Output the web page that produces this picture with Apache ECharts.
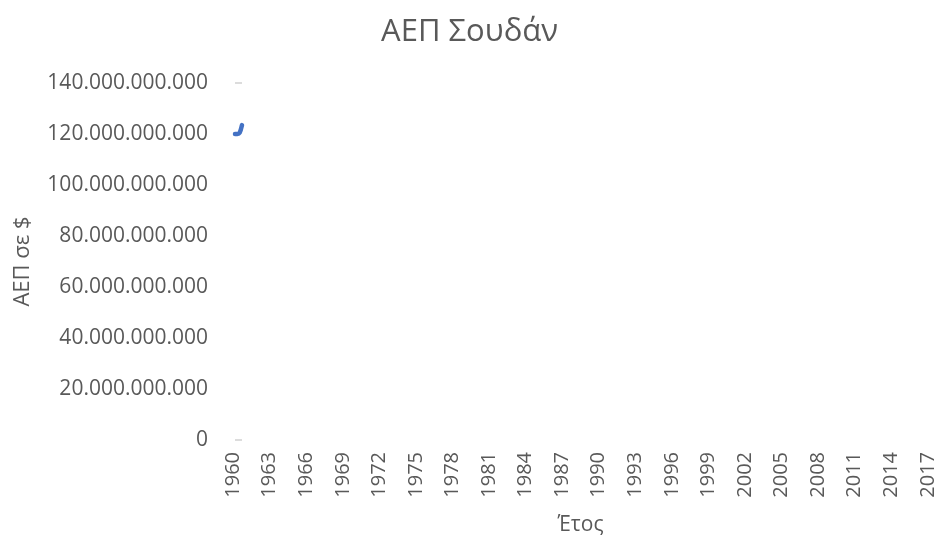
<!DOCTYPE html>
<html>
<head>
<meta charset="utf-8">
<script src="https://cdn.jsdelivr.net/npm/echarts@6/dist/echarts.min.js"></script>
<style>
  html, body { margin: 0; padding: 0; background: #fff; }
  #chart { width: 939px; height: 543px; }
</style>
</head>
<body>
<div id="chart"></div>
<script>
// categories on the year axis
var years = ["1960", "1961", "1962", "1963", "1964", "1965", "1966", "1967", "1968", "1969",
  "1970", "1971", "1972", "1973", "1974", "1975", "1976", "1977", "1978", "1979",
  "1980", "1981", "1982", "1983", "1984", "1985", "1986", "1987", "1988", "1989",
  "1990", "1991", "1992", "1993", "1994", "1995", "1996", "1997", "1998", "1999",
  "2000", "2001", "2002", "2003", "2004", "2005", "2006", "2007", "2008", "2009",
  "2010", "2011", "2012", "2013", "2014", "2015", "2016", "2017"];

// the only visible piece of the series (squeezed into the first category)
var tailYears = ["2014", "2015", "2016", "2017"];
var tailGdp = [120000000000, 120000000000, 120500000000, 123500000000];

var yMax = 140000000000;
var yStep = 20000000000;

var font = "'Open Sans', 'Noto Sans', sans-serif";
var grey = "#595959";

function dots(v) {
  return String(Math.round(v)).replace(/\B(?=(\d{3})+(?!\d))/g, ".");
}

var chart = echarts.init(document.getElementById("chart"));
chart.setOption({
  animation: false,
  title: {
    text: "ΑΕΠ Σουδάν",
    left: "center",
    top: 12,
    textStyle: { fontFamily: font, fontSize: 31, fontWeight: "normal", color: grey }
  },
  grid: [
    { left: 227, right: 5, top: 83, bottom: 103 },
    { left: 235, width: 7, top: 83, bottom: 103 }
  ],
  xAxis: [
    {
      type: "category",
      gridIndex: 0,
      data: years,
      name: "Έτος",
      nameLocation: "middle",
      nameGap: 75,
      nameTextStyle: { fontFamily: font, fontSize: 21, color: grey },
      axisLine: { show: false },
      axisTick: { show: false },
      axisLabel: {
        interval: 2,
        rotate: 90,
        margin: 12,
        fontFamily: font,
        fontSize: 20,
        color: grey
      }
    },
    {
      type: "category",
      gridIndex: 1,
      data: tailYears,
      boundaryGap: false,
      show: false
    }
  ],
  yAxis: [
    {
      type: "value",
      gridIndex: 0,
      min: 0,
      max: yMax,
      interval: yStep,
      name: "ΑΕΠ σε $",
      nameLocation: "middle",
      nameGap: 193,
      nameTextStyle: { fontFamily: font, fontSize: 22, color: grey },
      axisLine: { show: false },
      axisTick: { show: false },
      splitLine: { show: false },
      axisLabel: {
        margin: 19,
        fontFamily: font,
        fontSize: 21,
        color: grey,
        formatter: dots
      }
    },
    {
      type: "value",
      gridIndex: 1,
      min: 0,
      max: yMax,
      interval: yMax,
      axisLine: { show: false },
      axisTick: { show: false },
      axisLabel: { show: false },
      splitLine: { show: true, lineStyle: { color: "#d0d0d0", width: 1.5 } }
    }
  ],
  series: [
    {
      type: "line",
      xAxisIndex: 1,
      yAxisIndex: 1,
      data: tailGdp,
      symbol: "none",
      smooth: 0.3,
      lineStyle: { color: "#4472c4", width: 4.5, cap: "round", join: "round" }
    }
  ]
});
</script>
</body>
</html>
